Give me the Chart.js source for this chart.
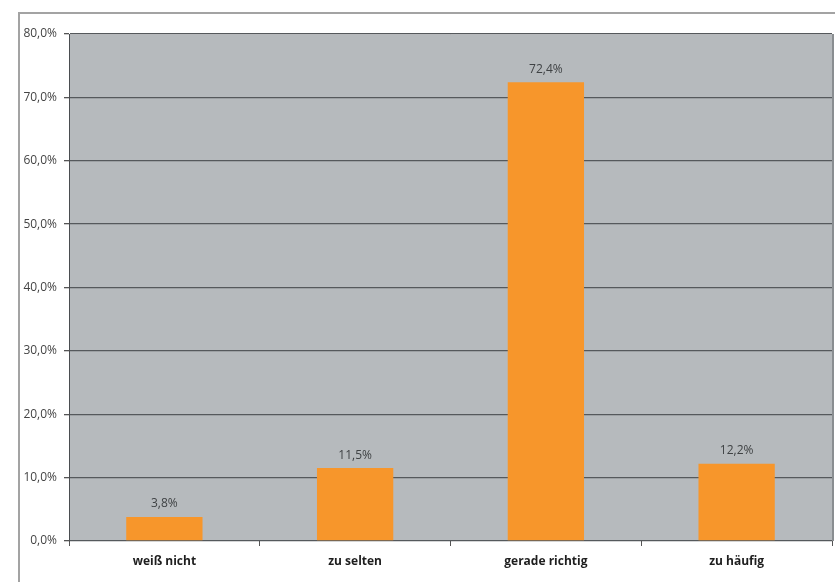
<!DOCTYPE html>
<html>
<head>
<meta charset="utf-8">
<script src="https://cdn.jsdelivr.net/npm/chart.js@4.4.1/dist/chart.umd.min.js"></script>
<style>
	html, body { margin: 0; padding: 0; background: #fff; }
	#wrap { width: 835px; height: 582px; }
</style>
</head>
<body>
<div id="wrap"><canvas id="chart" width="835" height="582"></canvas></div>
<script>
// Data
const categories = ['weiß nicht', 'zu selten', 'gerade richtig', 'zu häufig'];
const shares = [3.8, 11.5, 72.4, 12.2];
const yMax = 80;
const yStep = 10;

function pct(v) {
	return v.toFixed(1).replace('.', ',') + '%';
}

// plot background, outer frame and value labels
const decor = {
	id: 'decor',
	beforeDraw(chart) {
		const { ctx, chartArea: a } = chart;
		ctx.save();
		ctx.fillStyle = '#b6babd';
		ctx.fillRect(a.left, a.top, a.right - a.left, a.bottom - a.top);
		ctx.strokeStyle = '#d8dadc';
		ctx.lineWidth = 1;
		ctx.beginPath();
		ctx.moveTo(a.left, a.top + 0.5);
		ctx.lineTo(a.right, a.top + 0.5);
		ctx.stroke();
		ctx.strokeStyle = '#8a8e91';
		ctx.lineWidth = 2;
		ctx.beginPath();
		ctx.moveTo(a.right + 1, a.top);
		ctx.lineTo(a.right + 1, a.bottom);
		ctx.stroke();
		// outer frame
		ctx.strokeStyle = '#a3a3a3';
		ctx.lineWidth = 2;
		ctx.beginPath();
		ctx.moveTo(19, 582);
		ctx.lineTo(19, 13);
		ctx.lineTo(835, 13);
		ctx.stroke();
		ctx.restore();
	},
	afterDatasetsDraw(chart) {
		const { ctx } = chart;
		const meta = chart.getDatasetMeta(0);
		ctx.save();
		ctx.font = '12px "Open Sans"';
		ctx.fillStyle = '#3f4244';
		ctx.textAlign = 'center';
		ctx.textBaseline = 'bottom';
		meta.data.forEach((bar, i) => {
			ctx.fillText(pct(shares[i]), bar.x, bar.y - 7);
		});
		ctx.restore();
	}
};

const ctx = document.getElementById('chart').getContext('2d');
new Chart(ctx, {
	type: 'bar',
	data: {
		labels: categories,
		datasets: [
			{
				data: shares,
				backgroundColor: '#f7962b',
				borderWidth: 0,
				barPercentage: 0.4,
				categoryPercentage: 1,
			},
		],
	},
	options: {
		responsive: false,
		animation: false,
		layout: { padding: { top: 34, right: 3, left: 0, bottom: 0 } },
		plugins: {
			legend: { display: false },
			tooltip: { enabled: false },
		},
		scales: {
			x: {
				offset: true,
				afterFit(scale) { scale.height = 41; },
				grid: {
					offset: true,
					drawOnChartArea: false,
					drawTicks: true,
					tickLength: 5,
					color: '#555',
				},
				border: { display: false },
				ticks: {
					padding: 8,
					color: '#1e1e1e',
					font: { family: '"Open Sans"', size: 12, weight: 'bold' },
				},
			},
			y: {
				min: 0,
				max: yMax,
				afterFit(scale) { scale.width = 69; },
				grid: {
					color: '#55595c',
					lineWidth: 1.3,
					tickLength: 5,
					tickColor: '#555',
				},
				border: { display: true, color: '#4a4d50', width: 1 },
				ticks: {
					stepSize: yStep,
					padding: 7,
					color: '#444',
					font: { family: '"Open Sans"', size: 12 },
					callback: (v) => pct(v),
				},
			},
		},
	},
	plugins: [decor],
});
</script>
</body>
</html>
